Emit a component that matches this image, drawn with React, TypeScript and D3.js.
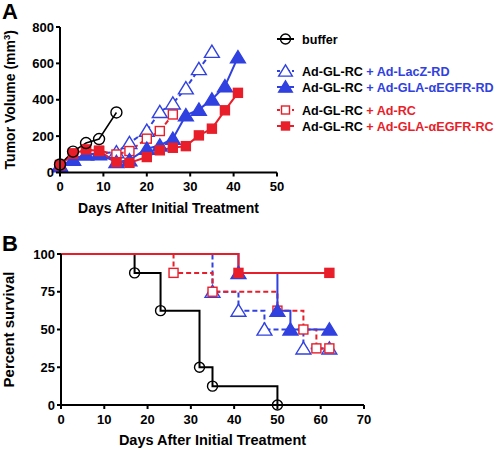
import React from "react";
import * as d3 from "d3";

// ---------- Panel A data (tumor volume, mm3) ----------
const daysA = [0, 3, 6, 9, 13, 16, 20, 23, 26, 29, 32, 35, 38, 41];
const bufferVol = [44, 115, 162, 184, 330];
const lacZVol = [40, 72, 100, 105, 112, 162, 230, 333, 380, 463, 569, 664];
const adRCVol = [42, 105, 122, 120, 99, 118, 186, 228, 319];
const glaRDVol = [35, 70, 100, 100, 58, 68, 131, 149, 186, 315, 346, 402, 475, 634];
const glaRCVol = [40, 103, 127, 118, 57, 53, 85, 122, 136, 145, 204, 241, 342, 438];

const xTicksA = [0, 10, 20, 30, 40, 50];
const yTicksA = [0, 200, 400, 600, 800];

// ---------- Panel B data (Kaplan-Meier survival, %) ----------
const bufferT = [0, 17, 23, 32, 35, 50];
const bufferS = [100, 87.5, 62.5, 25, 12.5, 0];
const adRCT = [0, 26, 35, 50, 56, 59, 62];
const adRCS = [100, 87.5, 75, 62.5, 50, 37.5, 37.5];
const lacZT = [0, 35, 41, 47, 56, 62];
const lacZS = [100, 75, 62.5, 50, 37.5, 37.5];
const glaRDT = [0, 41, 50, 53, 62];
const glaRDS = [100, 87.5, 62.5, 50, 50];
const glaRCT = [0, 41, 62];
const glaRCS = [100, 87.5, 87.5];

const xTicksB = [0, 10, 20, 30, 40, 50, 60, 70];
const yTicksB = [0, 25, 50, 75, 100];

const BLUE = "#3041E0";
const RED = "#E81E2A";
const BLACK = "#000";
const FONT = "'Liberation Sans', Arial, Helvetica, sans-serif";

type Shape = "circle" | "triangle" | "square";

function Marker({ x, y, shape, color, filled, size }: { x: number; y: number; shape: Shape; color: string; filled: boolean; size: number }) {
  const fill = filled ? color : "white";
  const sw = 1.4;
  if (shape === "circle") {
    return <circle cx={x} cy={y} r={size / 2} fill={filled ? color : "none"} stroke={color} strokeWidth={sw} />;
  }
  if (shape === "square") {
    const h = size / 2 - 0.5;
    return <rect x={x - h} y={y - h} width={2 * h} height={2 * h} fill={fill} stroke={color} strokeWidth={sw} />;
  }
  const w = size * 0.62;
  const ht = size * 0.55;
  return (
    <path
      d={`M${x},${y - ht} L${x + w},${y + ht * 0.85} L${x - w},${y + ht * 0.85} Z`}
      fill={fill}
      stroke={color}
      strokeWidth={sw}
      strokeLinejoin="miter"
    />
  );
}

type SeriesA = { vals: number[]; color: string; shape: Shape; filled: boolean; dashed: boolean; width: number };

export default function App() {
  // Panel A scales
  const xA = d3.scaleLinear().domain([0, 50]).range([60, 277]);
  const yA = d3.scaleLinear().domain([0, 800]).range([172.5, 27]);
  // Panel B scales
  const xB = d3.scaleLinear().domain([0, 70]).range([61, 364]);
  const yB = d3.scaleLinear().domain([0, 100]).range([405, 254]);

  const seriesA: SeriesA[] = [
    { vals: lacZVol, color: BLUE, shape: "triangle", filled: false, dashed: true, width: 2 },
    { vals: adRCVol, color: RED, shape: "square", filled: false, dashed: true, width: 2 },
    { vals: glaRDVol, color: BLUE, shape: "triangle", filled: true, dashed: false, width: 2 },
    { vals: glaRCVol, color: RED, shape: "square", filled: true, dashed: false, width: 2 },
    { vals: bufferVol, color: BLACK, shape: "circle", filled: false, dashed: false, width: 1.5 },
  ];

  const lineA = d3
    .line<number>()
    .x((_, i) => xA(daysA[i]))
    .y((v) => yA(v));

  const seriesB = [
    { t: bufferT, s: bufferS, color: BLACK, shape: "circle" as Shape, filled: false, dashed: false, width: 2 },
    { t: lacZT, s: lacZS, color: BLUE, shape: "triangle" as Shape, filled: false, dashed: true, width: 2 },
    { t: adRCT, s: adRCS, color: RED, shape: "square" as Shape, filled: false, dashed: true, width: 2 },
    { t: glaRDT, s: glaRDS, color: BLUE, shape: "triangle" as Shape, filled: true, dashed: false, width: 2 },
    { t: glaRCT, s: glaRCS, color: RED, shape: "square" as Shape, filled: true, dashed: false, width: 2 },
  ];

  const tickFont = { fontFamily: FONT, fontWeight: 700, fontSize: 13 } as const;
  const titleFont = { fontFamily: FONT, fontWeight: 700, fontSize: 14 } as const;

  const legendRows = [
    { y: 39, color: BLACK, shape: "circle" as Shape, filled: false, dashed: false, a: "buffer", b: "" },
    { y: 71, color: BLUE, shape: "triangle" as Shape, filled: false, dashed: true, a: "Ad-GL-RC", b: " + Ad-LacZ-RD" },
    { y: 87, color: BLUE, shape: "triangle" as Shape, filled: true, dashed: false, a: "Ad-GL-RC", b: " + Ad-GLA-αEGFR-RD" },
    { y: 110, color: RED, shape: "square" as Shape, filled: false, dashed: true, a: "Ad-GL-RC", b: " + Ad-RC" },
    { y: 126, color: RED, shape: "square" as Shape, filled: true, dashed: false, a: "Ad-GL-RC", b: " + Ad-GLA-αEGFR-RC" },
  ];

  return (
    <svg width={495} height={452} style={{ position: "absolute", left: 0, top: 0, background: "white" }}>
      {/* Panel labels */}
      <text x={2} y={19} style={{ fontFamily: FONT, fontWeight: 700, fontSize: 22 }}>A</text>
      <text x={2} y={251} style={{ fontFamily: FONT, fontWeight: 700, fontSize: 22 }}>B</text>

      {/* ---------- Panel A ---------- */}
      <g>
        {seriesA.map((s, k) => (
          <path
            key={"la" + k}
            d={lineA(s.vals) || ""}
            fill="none"
            stroke={s.color}
            strokeWidth={s.width}
            strokeDasharray={s.dashed ? "5,3" : undefined}
          />
        ))}
        {seriesA.map((s, k) =>
          s.vals.map((v, i) => (
            <Marker key={"ma" + k + "-" + i} x={xA(daysA[i])} y={yA(v)} shape={s.shape} color={s.color} filled={s.filled} size={s.shape === "circle" ? 11 : s.shape === "square" ? 10 : 12} />
          ))
        )}
        {/* axes */}
        <line x1={xA(0)} x2={xA(50)} y1={yA(0)} y2={yA(0)} stroke="black" strokeWidth={2} />
        <line x1={xA(0)} x2={xA(0)} y1={yA(0)} y2={yA(800)} stroke="black" strokeWidth={2} />
        {xTicksA.map((t) => (
          <g key={"xa" + t}>
            <line x1={xA(t)} x2={xA(t)} y1={yA(0)} y2={yA(0) + 4} stroke="black" strokeWidth={2} />
            <text x={xA(t)} y={yA(0) + 18} textAnchor="middle" style={tickFont}>{t}</text>
          </g>
        ))}
        {yTicksA.map((t) => (
          <g key={"ya" + t}>
            <line x1={xA(0) - 4} x2={xA(0)} y1={yA(t)} y2={yA(t)} stroke="black" strokeWidth={2} />
            <text x={xA(0) - 6} y={yA(t) + 4.5} textAnchor="end" style={tickFont}>{t}</text>
          </g>
        ))}
        <text x={(xA(0) + xA(50)) / 2} y={213} textAnchor="middle" style={titleFont}>Days After Initial Treatment</text>
        <text transform={`translate(15,${(yA(0) + yA(800)) / 2}) rotate(-90)`} textAnchor="middle" style={titleFont}>
          Tumor Volume (mm<tspan dy={-5} style={{ fontSize: 9.5 }}>3</tspan><tspan dy={5}>)</tspan>
        </text>

        {/* legend */}
        {legendRows.map((r, k) => (
          <g key={"lg" + k}>
            <line x1={277} x2={294} y1={r.y} y2={r.y} stroke={r.color} strokeWidth={2} strokeDasharray={r.dashed ? "3,2" : undefined} />
            <Marker x={285.5} y={r.y} shape={r.shape} color={r.color} filled={r.filled} size={r.shape === "circle" ? 10 : r.shape === "square" ? 9 : 11} />
            <text x={302} y={r.y + 4.5} style={{ fontFamily: FONT, fontWeight: 700, fontSize: 12.6 }}>
              <tspan fill="black">{r.a}</tspan>
              {r.b ? <tspan fill={r.color}>{r.b}</tspan> : null}
            </text>
          </g>
        ))}
      </g>

      {/* ---------- Panel B ---------- */}
      <g>
        {seriesB.map((s, k) => {
          const pts: [number, number][] = s.t.map((t, i) => [xB(t), yB(s.s[i])]);
          const d = d3.line().curve(d3.curveStepAfter)(pts) || "";
          return (
            <path key={"lb" + k} d={d} fill="none" stroke={s.color} strokeWidth={s.width} strokeDasharray={s.dashed ? "5,3" : undefined} />
          );
        })}
        {seriesB.map((s, k) =>
          s.t.map((t, i) =>
            i === 0 ? null : (
              <Marker key={"mb" + k + "-" + i} x={xB(t)} y={yB(s.s[i])} shape={s.shape} color={s.color} filled={s.filled} size={s.shape === "circle" ? 10 : s.shape === "square" ? 10 : 12} />
            )
          )
        )}
        <line x1={xB(0)} x2={xB(41)} y1={yB(100)} y2={yB(100)} stroke={RED} strokeWidth={1.5} />
        {/* axes */}
        <line x1={xB(0)} x2={xB(70)} y1={yB(0)} y2={yB(0)} stroke="black" strokeWidth={2} />
        <line x1={xB(0)} x2={xB(0)} y1={yB(0)} y2={yB(100)} stroke="black" strokeWidth={2} />
        {xTicksB.map((t) => (
          <g key={"xb" + t}>
            <line x1={xB(t)} x2={xB(t)} y1={yB(0)} y2={yB(0) + 4} stroke="black" strokeWidth={2} />
            <text x={xB(t)} y={yB(0) + 19} textAnchor="middle" style={tickFont}>{t}</text>
          </g>
        ))}
        {yTicksB.map((t) => (
          <g key={"yb" + t}>
            <line x1={xB(0) - 4} x2={xB(0)} y1={yB(t)} y2={yB(t)} stroke="black" strokeWidth={2} />
            <text x={xB(0) - 6} y={yB(t) + 4.5} textAnchor="end" style={tickFont}>{t}</text>
          </g>
        ))}
        <text x={(xB(0) + xB(70)) / 2} y={445} textAnchor="middle" style={{ ...titleFont, fontSize: 14.5 }}>Days After Initial Treatment</text>
        <text transform={`translate(14,${(yB(0) + yB(100)) / 2}) rotate(-90)`} textAnchor="middle" style={{ ...titleFont, fontSize: 15 }}>Percent survival</text>
      </g>
    </svg>
  );
}
